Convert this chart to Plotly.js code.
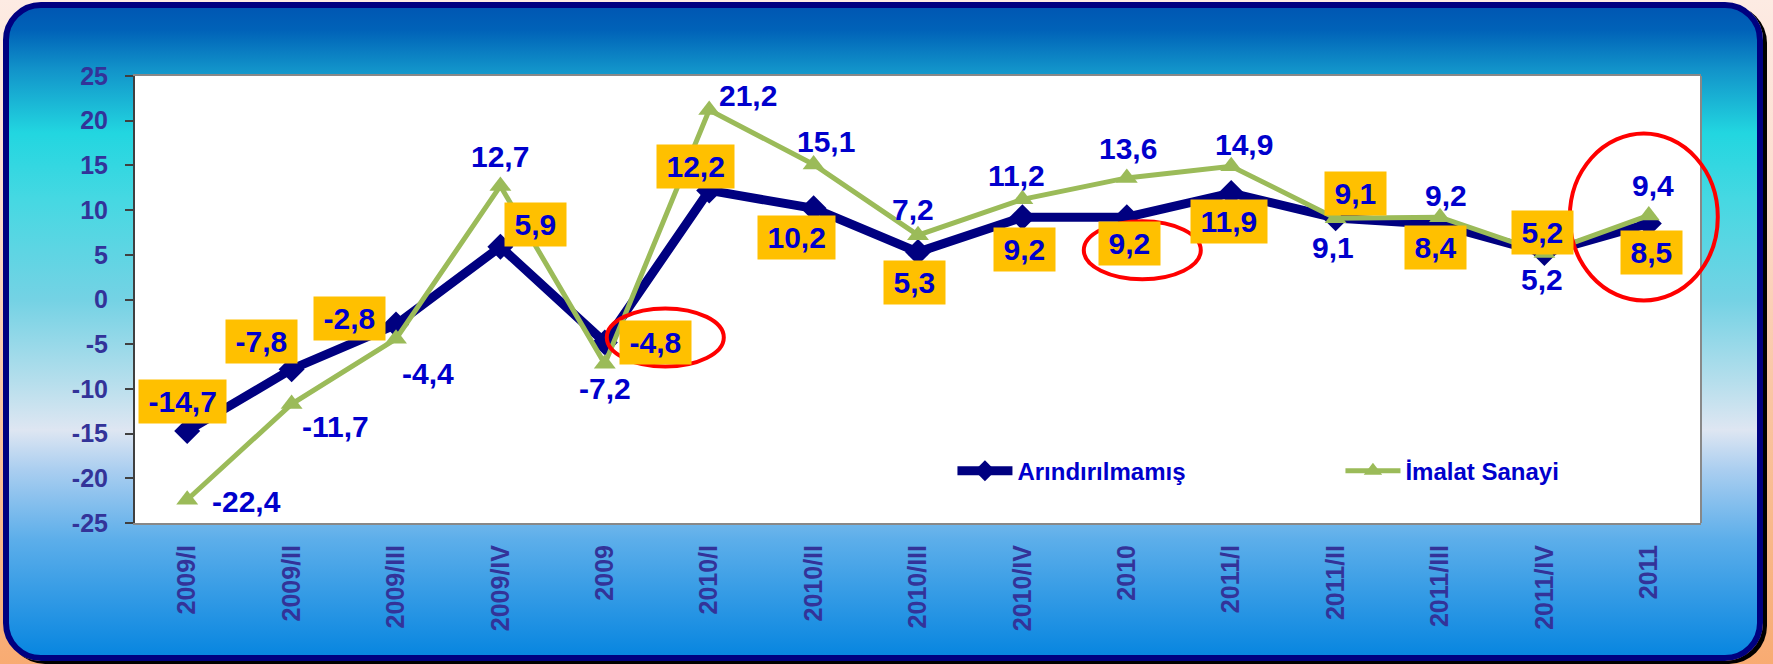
<!DOCTYPE html>
<html><head><meta charset="utf-8">
<script src="https://cdn.plot.ly/plotly-3.0.1.min.js"></script>
<style>
html,body{margin:0;padding:0;width:1773px;height:664px;overflow:hidden;
 background:linear-gradient(to bottom,#fdebe3 0%,#fcdccd 30%,#fac5a2 60%,#f8ab72 100%);}
#frame{position:absolute;left:3px;top:2px;width:1760px;height:659px;box-sizing:border-box;
 border:6px solid #000080;border-radius:38px;box-shadow:4px 3px 0 #000;
 background:linear-gradient(to bottom,#0057b3 0%,#0062b8 3.4%,#1294ca 9.6%,#22d6e0 19.3%,#46d8e2 29.7%,#74d2e4 45.1%,#b4deec 57.5%,#dee6f2 65.2%,#aacef0 71.4%,#5caeea 82.2%,#0886e0 100%);}
#chart{position:absolute;left:0;top:0;width:1773px;height:664px;}
</style></head><body><div id="frame"></div><div id="chart"></div>
<script>
// ---- data ----
const categories = ['2009/I','2009/II','2009/III','2009/IV','2009','2010/I','2010/II','2010/III','2010/IV','2010','2011/I','2011/II','2011/III','2011/IV','2011'];
const arindirilmamis = [-14.7,-7.8,-2.8,5.9,-4.8,12.2,10.2,5.3,9.2,9.2,11.9,9.1,8.4,5.2,8.5];
const imalatSanayi = [-22.4,-11.7,-4.4,12.7,-7.2,21.2,15.1,7.2,11.2,13.6,14.9,9.1,9.2,5.2,9.4];
const seriesNames = ['Arındırılmamış','İmalat Sanayi'];
const yTickValues = [-25,-20,-15,-10,-5,0,5,10,15,20,25];
const highlighted = ['2009','2010','2011'];

// ---- placement / style (pixel offsets of value labels: [dx, dy] screen) ----
const greenShift = [[59,2],[44,22],[32,35],[0,-29],[0,25],[39,-14],[12,-23],[-5,-26],[-6,-24],[1,-29],[13,-22],[-3,29],[6,-22],[-2,26],[4,-30]];
const navyShift  = [[-5,-29],[-30,-28],[-47,-6],[35,-22],[51,0],[-14,-24],[-17,29],[-4,30],[2,32],[3,26],[-2,28],[20,-25],[-5,23],[-2,-21],[3,29]];
// ellipse extents relative to the highlighted point: [x0,x1,y0(down),y1(up)]
const ellipseBox = [[2,119,-24,34],[-43,74,-62,-4],[-79,69,-77,90]];

const Y_MIN = -25, Y_MAX = 25;
const FONT = '"Liberation Sans", Arial, sans-serif';
const NAVY = '#000080', GREEN = '#9BBB59', LABEL = '#0000CC', AXIS = '#333399';
const fmt = v => v.toFixed(1).replace('.', ',');
const n = categories.length;

const traces = [
  {x: categories, y: arindirilmamis, name: seriesNames[0], type: 'scatter', mode: 'lines+markers',
   line: {color: NAVY, width: 9}, marker: {symbol: 'diamond', size: 20, color: NAVY}, hoverinfo: 'skip'},
  {x: categories, y: imalatSanayi, name: seriesNames[1], type: 'scatter', mode: 'lines+markers',
   line: {color: GREEN, width: 5}, marker: {symbol: 'triangle-up', size: 19, color: GREEN}, hoverinfo: 'skip'}
];

const annotations = [];
const pad = '<span style="font-size:16px">&nbsp;</span>';
categories.forEach((c, i) => {
  annotations.push({x: i, y: imalatSanayi[i], xref: 'x', yref: 'y', text: fmt(imalatSanayi[i]),
    showarrow: false, xshift: greenShift[i][0], yshift: -greenShift[i][1],
    font: {family: FONT, size: 30, color: LABEL, weight: 'bold'}});
});
categories.forEach((c, i) => {
  annotations.push({x: i, y: arindirilmamis[i], xref: 'x', yref: 'y', text: pad + fmt(arindirilmamis[i]) + pad,
    showarrow: false, xshift: navyShift[i][0], yshift: -navyShift[i][1], bgcolor: '#FFC000', borderpad: 5,
    font: {family: FONT, size: 30, color: LABEL, weight: 'bold'}});
});

const shapes = [
  {type: 'line', xref: 'paper', yref: 'paper', x0: 1, x1: 1, y0: 0, y1: 1, line: {color: '#888888', width: 2}}
];
highlighted.forEach((c, k) => {
  const i = categories.indexOf(c);
  const b = ellipseBox[k];
  shapes.push({type: 'circle', xref: 'paper', yref: 'paper', xsizemode: 'pixel', ysizemode: 'pixel',
    xanchor: (i + 0.5) / n, yanchor: (arindirilmamis[i] - Y_MIN) / (Y_MAX - Y_MIN),
    x0: b[0], x1: b[1], y0: b[2], y1: b[3], line: {color: '#FF0000', width: 4}, layer: 'above'});
});

const layout = {
  width: 1773, height: 664,
  margin: {l: 135, r: 72, t: 76, b: 141, pad: 0},
  paper_bgcolor: 'rgba(0,0,0,0)', plot_bgcolor: '#FFFFFF',
  showlegend: true,
  xaxis: {type: 'category', categoryarray: categories, range: [-0.5, n - 0.5], tickangle: -90,
    showline: true, mirror: true, linecolor: '#888888', linewidth: 2, ticks: '', showgrid: false, zeroline: false,
    tickfont: {family: FONT, size: 25, color: AXIS, weight: 'bold'}, ticklabelstandoff: 10, fixedrange: true},
  xaxis2: {overlaying: 'x', anchor: 'free', position: (0 - Y_MIN) / (Y_MAX - Y_MIN), side: 'bottom',
    range: [-0.5, n - 0.5], tickmode: 'linear', tick0: -0.5, dtick: 0.5, ticks: 'outside', ticklen: 7, tickwidth: 2,
    tickcolor: '#444444', showticklabels: false, showgrid: false, zeroline: false,
    showline: true, linecolor: '#868686', linewidth: 2},
  yaxis: {range: [Y_MIN, Y_MAX], tickmode: 'array', tickvals: yTickValues, ticktext: yTickValues.map(String),
    showline: true, linecolor: '#404040', linewidth: 2, ticks: 'outside', ticklen: 8, tickwidth: 2, tickcolor: '#404040',
    showgrid: false, zeroline: false, tickfont: {family: FONT, size: 25, color: AXIS, weight: 'bold'}, ticklabelstandoff: 12},
  legend: {orientation: 'h', x: 0.522, y: 0.116, xanchor: 'left', yanchor: 'middle', bgcolor: 'rgba(0,0,0,0)',
    font: {family: FONT, size: 24, color: LABEL, weight: 'bold'}, itemwidth: 55, entrywidthmode: 'pixels', entrywidth: 318,
    traceorder: 'normal'},
  annotations: annotations,
  shapes: shapes
};

Plotly.newPlot('chart', traces, layout, {displayModeBar: false, staticPlot: true});
</script></body></html>
